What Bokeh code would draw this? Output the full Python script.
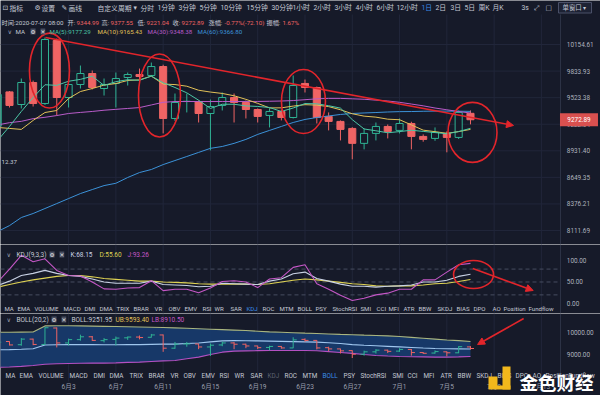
from bokeh.plotting import figure
from bokeh.layouts import column
from bokeh.core.properties import value
from bokeh.models import (Range1d, Label, Arrow, NormalHead, BoxAnnotation, ColumnDataSource)
from bokeh.embed import file_html
from bokeh.resources import INLINE

# ---------------- data (daily candles, index 5 = 6月3) ----------------
day_index = list(range(-1, 40))
opens = [9200, 9590, 9445, 9699, 9456, 10204, 9525, 9676, 9805, 9629, 9688, 9758, 9793, 9782, 9888,
         9287, 9479, 9479, 9343, 9434, 9525, 9468, 9388, 9321, 9366, 9298, 9688, 9641, 9310, 9254,
         9176, 9012, 9121, 9198, 9154, 9231, 9088, 9066, 9121, 9077, 9344.99]
highs = [9600, 9600, 9746, 9722, 10241, 10228, 9723, 9900, 9841, 9746, 9817, 9817, 9864, 9936, 9910,
         9571, 9571, 9490, 9502, 9583, 9571, 9491, 9400, 9400, 9388, 9782, 9734, 9652, 9355, 9265,
         9190, 9176, 9242, 9220, 9287, 9250, 9110, 9187, 9143, 9377, 9377.55]
lows = [9150, 9411, 9400, 9422, 9440, 9321, 9411, 9629, 9618, 9548, 9411, 9664, 9688, 9770, 9121,
        9260, 9355, 9242, 8936, 9377, 9242, 9287, 9242, 9187, 9265, 9287, 9583, 9231, 9154, 9044,
        8840, 8947, 9044, 9066, 9120, 8947, 9030, 9040, 8915, 9060, 9221.04]
closes = [9560, 9434, 9699, 9456, 10216, 9525, 9676, 9805, 9641, 9676, 9746, 9793, 9770, 9888, 9287,
          9468, 9482, 9343, 9422, 9525, 9468, 9388, 9310, 9366, 9298, 9664, 9641, 9298, 9254, 9165,
          9012, 9121, 9198, 9143, 9231, 9088, 9055, 9132, 9077, 9355, 9272.89]
ma5 = [9044, 9198, 9366, 9525, 9673, 9666, 9714, 9736, 9773, 9665, 9709, 9732, 9725, 9775, 9697,
       9641, 9579, 9494, 9400, 9448, 9448, 9429, 9423, 9411, 9366, 9405, 9456, 9453, 9431, 9404,
       9274, 9170, 9150, 9128, 9141, 9156, 9143, 9130, 9117, 9141, 9177.29]
ma10 = [9187, 9176, 9165, 9265, 9354, 9377, 9514, 9594, 9629, 9669, 9687, 9723, 9730, 9774, 9681,
        9675, 9656, 9609, 9588, 9572, 9545, 9504, 9458, 9406, 9407, 9427, 9443, 9438, 9421, 9385,
        9340, 9313, 9302, 9279, 9273, 9215, 9157, 9140, 9122, 9141, 9165.43]
ma30 = [9215, 9240, 9255, 9285, 9300, 9320, 9343, 9355, 9366, 9380, 9390, 9400, 9410, 9440, 9470,
        9479, 9479, 9479, 9479, 9479, 9479, 9480, 9480, 9482, 9485, 9490, 9500, 9510, 9515, 9515,
        9510, 9505, 9495, 9485, 9470, 9450, 9430, 9405, 9385, 9365, 9348.38]
ma60 = [8102, 8160, 8240, 8280, 8330, 8380, 8431, 8482, 8523, 8564, 8588, 8648, 8700, 8732, 8784,
        8827, 8870, 8914, 8958, 8978, 9012, 9055, 9110, 9154, 9198, 9242, 9276, 9298, 9315, 9332,
        9343, 9349, 9354, 9360, 9364, 9365, 9368, 9370, 9370, 9369, 9366.80]
kdj_k = [42, 52, 65, 70, 77, 70, 65, 63, 57, 50, 47, 47, 47, 52, 44, 43, 42, 39, 40, 47, 46,
         45, 44, 52, 57, 69, 73, 58, 52, 45, 40, 40, 38, 40, 41, 43, 50, 50, 54, 63, 68.15]
kdj_d = [38, 44, 50, 55, 59, 63, 65, 65, 62, 58, 56, 54, 52, 52, 50, 49, 48, 46, 45, 45, 45,
         45, 44, 46, 50, 54, 57, 55, 52, 49, 46, 44, 41, 40, 41, 41, 43, 46, 47, 51, 55.60]
kdj_j = [50, 80, 112, 97, 104, 77, 65, 64, 50, 34, 33, 36, 37, 53, 30, 33, 33, 25, 36, 51, 53,
         50, 37, 57, 60, 84, 90, 46, 33, 19, 7, 12, 20, 24, 33, 33, 55, 55, 73, 90, 93.26]
boll_ub = [10010, 10010, 10015, 10020, 10300, 10310, 10310, 10300, 10290, 10280, 10270, 10260, 10250,
           10240, 10230, 10210, 10190, 10170, 10150, 10130, 10110, 10090, 10060, 10030, 10010, 9990,
           9970, 9955, 9935, 9915, 9900, 9880, 9865, 9845, 9815, 9780, 9740, 9700, 9660, 9630, 9593.40]
boll_mid = [9215, 9220, 9238, 9260, 9430, 9445, 9450, 9450, 9448, 9445, 9445, 9450, 9451, 9460, 9470,
            9470, 9500, 9525, 9575, 9618, 9631, 9628, 9618, 9606, 9596, 9586, 9576, 9563, 9533, 9503,
            9450, 9420, 9395, 9370, 9345, 9320, 9295, 9272, 9260, 9255, 9251.95]
boll_lb = [8420, 8430, 8460, 8500, 8560, 8580, 8590, 8600, 8606, 8610, 8620, 8640, 8652, 8680, 8710,
           8730, 8810, 8880, 9000, 9106, 9152, 9165, 9175, 9182, 9182, 9182, 9182, 9170, 9130, 9090,
           9050, 9000, 8955, 8930, 8910, 8900, 8890, 8880, 8880, 8890, 8910.50]
date_ticks = [5, 9, 13, 17, 21, 25, 29, 33, 37, 41, 45]
date_labels = ["6月3", "6月7", "6月11", "6月15", "6月19", "6月23", "6月27", "7月1", "7月5", "7月9", "7月13"]
price_ticks = [8111.69, 8376.21, 8649.35, 8931.40, 9222.64, 9523.38, 9833.93, 10154.61]
kdj_ticks = [0, 50, 100]
kdj_levels = [20, 50, 80]
boll_ticks = [9000, 10000]
last_price = 9272.89
tabs = ["MA", "EMA", "VOLUME", "MACD", "DMI", "DMA", "TRIX", "BRAR", "VR", "OBV", "EMV", "RSI", "WR",
        "SAR", "KDJ", "ROC", "MTM", "BOLL", "PSY", "StochRSI", "SMI", "CCI", "MFI", "ATR", "BBW",
        "SKDJ", "BIAS", "DPO", "AO", "Position", "Fundflow"]

# ---------------- styling / layout constants ----------------
SX = 1.0
BG = "#161a29"
GRID = "#21263a"
SEP = "#2c3245"
RED = "#ef6464"
GREEN = "#2fb394"
ANN = "#e2252b"
TXT = "#c5c9d4"
AX = "#aeb3bf"
DIM = "#9a9fae"
BLUE_T = "#3b8de8"
C_MA5, C_MA10, C_MA30, C_MA60 = "#4cc6a6", "#e2c158", "#b95cc9", "#3c92d8"
C_K, C_D, C_J = "#c8d1e4", "#ded253", "#c457c6"
CN = "Noto Sans CJK SC"
LAT = "Roboto"
MIX = "Roboto, 'Noto Sans CJK SC'"
GEOM = {"main": (0, 244, 244), "kdj": (244, 313, 69), "boll": (313, 395, 82)}
X0, X_SEP, X_LAB, X_TAG = -0.761, 46.616, 47.15, 48.18

x_rng = Range1d(X0, 50.0)


def make_fig(key, y_rng, y_type="linear"):
    f = figure(frame_width=600, frame_height=GEOM[key][2], x_range=x_rng, y_range=y_rng,
               y_axis_type=y_type, x_axis_location=None, y_axis_location=None,
               output_backend="svg", toolbar_location=None, min_border=0,
               background_fill_color=BG, border_fill_color=BG, outline_line_color=None)
    f.xgrid.visible = False
    f.ygrid.visible = False
    return f


def tick_text(f, ys, labels, size="6.4px"):
    f.text(x=[X_LAB] * len(ys), y=ys, text=labels, text_font=value(LAT), text_font_size=size,
           text_color=AX, text_baseline="middle", text_align="left")


def txt(f, key, s, rx, ry, color=TXT, size=6.2, font=MIX, align="left", style="normal", bg=None):
    top, bot, h = GEOM[key]
    y = (bot - ry) * h / (bot - top)
    lab = Label(x=rx * SX, y=y, x_units="screen", y_units="screen", text=s, text_color=color,
                text_font_size=f"{size}px", text_font=font, text_align=align, text_baseline="middle",
                text_font_style=style)
    if bg:
        lab.background_fill_color = bg
    f.add_layout(lab)


def box(f, key, x0, x1, y0, y1, fill, line=None):
    top, bot, h = GEOM[key]
    k = h / (bot - top)
    f.add_layout(BoxAnnotation(left=x0 * SX, right=x1 * SX, top=(bot - y0) * k, bottom=(bot - y1) * k,
                               left_units="screen", right_units="screen", top_units="screen",
                               bottom_units="screen", fill_color=fill, fill_alpha=1.0,
                               line_color=line if line else None, line_alpha=1.0 if line else 0))


def frame_lines(f, y_lo, y_hi, hgrid=None):
    f.segment(x0=date_ticks, y0=[y_lo] * len(date_ticks), x1=date_ticks, y1=[y_hi] * len(date_ticks),
              line_color=GRID, line_width=1)
    if hgrid:
        f.segment(x0=[X0] * len(hgrid), y0=hgrid, x1=[X_SEP] * len(hgrid), y1=hgrid,
                  line_color=GRID, line_width=1)
    f.segment(x0=[X_SEP], y0=[y_lo], x1=[X_SEP], y1=[y_hi], line_color=SEP, line_width=1)


up = [c >= o for o, c in zip(opens, closes)]
src = ColumnDataSource(dict(
    x=day_index, o=opens, h=highs, l=lows, c=closes,
    top=[max(o, c) for o, c in zip(opens, closes)],
    bot=[min(o, c) for o, c in zip(opens, closes)],
    xl=[i - 0.3 for i in day_index], xr=[i + 0.3 for i in day_index],
    line=[GREEN if u else RED for u in up],
    fill=[BG if u else RED for u in up],
))

# ---------------- main price panel (with toolbar strip on top) ----------------
MAIN_LO, MAIN_HI, MAIN_GRID_TOP = 7975.9, 10708.9, 10529.3
main = make_fig("main", Range1d(MAIN_LO, MAIN_HI), "log")
frame_lines(main, MAIN_LO, MAIN_GRID_TOP, price_ticks)
tick_text(main, price_ticks, [f"{t:.2f}" for t in price_ticks])

main.segment(x0="x", y0="h", x1="x", y1="l", line_color="line", line_width=1, source=src)
main.vbar(x="x", width=0.6, top="top", bottom="bot", fill_color="fill", line_color="line",
          line_width=1, source=src)
for series, col in [(ma60, C_MA60), (ma30, C_MA30), (ma10, C_MA10), (ma5, C_MA5)]:
    main.line(day_index, series, line_color=col, line_width=1)

# current-price tag on the price scale
main.rect(x=[X_TAG], y=[last_price], width=[38], height=[13], width_units="screen",
          height_units="screen", fill_color="#d9504f", line_color=None)
main.text(x=[X_TAG], y=[last_price], text=[f"{last_price:.2f}"], text_font=value(LAT),
          text_font_size="6.4px", text_color="white", text_align="center", text_baseline="middle")

# hand-drawn red marks
mark_x = [3.38, 12.69, 24.87, 39.17]
mark_y = [9840, 9548, 9479, 9132]
main.ellipse(x=mark_x, y=mark_y, width=[40, 42, 44, 49], height=[75, 83, 64, 60],
             width_units="screen", height_units="screen", fill_color=None, line_color=ANN, line_width=1.6)
main.add_layout(Arrow(end=NormalHead(size=7, fill_color=ANN, line_color=ANN),
                      x_start=3.05, y_start=10241, x_end=42.64, y_end=9209,
                      line_color=ANN, line_width=1.6))

# toolbar strip
tool_items = [("⊡", 2, "DejaVu Sans"), ("指标", 9, CN), ("⚙", 34, "DejaVu Sans"), ("设置", 41, CN),
              ("✎", 61, "DejaVu Sans"), ("画线", 68, CN), ("自定义周期", 97, CN), ("▾", 133, "DejaVu Sans"),
              ("分时", 140, CN), ("1分钟", 157, MIX), ("3分钟", 178, MIX), ("5分钟", 199, MIX),
              ("10分钟", 220, MIX), ("15分钟", 246, MIX), ("30分钟", 271, MIX), ("1小时", 292, MIX),
              ("2小时", 313, MIX), ("3小时", 334, MIX), ("4小时", 355, MIX), ("6小时", 376, MIX),
              ("12小时", 396, MIX), ("1日", 421, MIX), ("2日", 435, MIX), ("3日", 450, MIX), ("5日", 464, MIX),
              ("周K", 478, MIX), ("月K", 492, MIX), ("3s", 521, LAT), ("⤢", 533, "DejaVu Sans"),
              ("□", 545, "DejaVu Sans")]
for s, x, fnt in tool_items:
    txt(main, "main", s, x, 7, color=BLUE_T if s == "1日" else TXT, size=6.8, font=fnt)
box(main, "main", 558, 591, 2, 12.5, "#1d2234", "#4a5068")
txt(main, "main", "单窗口 ▾", 562, 7, color=TXT, size=6.4, font=CN)

info = [("时间:2020-07-07 08:00", 1, TXT), ("开:", 67, TXT), ("9344.99", 76, RED), ("高:", 101, TXT),
        ("9377.55", 110, RED), ("低:", 137, TXT), ("9221.04", 146, RED), ("收:", 172, TXT),
        ("9272.89", 181, RED), ("涨幅:", 208, TXT), ("-0.77%(-72.10)", 224, RED), ("振幅:", 266, TXT),
        ("1.67%", 282, RED)]
for s, x, c in info:
    txt(main, "main", s, x, 22, color=c, size=6.2)
txt(main, "main", "∨", 7, 31, color=DIM, size=6.2, font="DejaVu Sans")
txt(main, "main", "MA", 15, 31, color=TXT, size=6.2)
txt(main, "main", "⚙", 30, 31, color="#e0e0e0", size=5.7, font="DejaVu Sans", bg="#474d60")
txt(main, "main", "✕", 40, 31, color="#e0e0e0", size=5.7, font="DejaVu Sans", bg="#474d60")
for s, x, c in [("MA(5):9177.29", 49, C_MA5), ("MA(10):9165.43", 97, C_MA10),
                ("MA(30):9348.38", 147, C_MA30), ("MA(60):9366.80", 197, C_MA60)]:
    txt(main, "main", s, x, 31, color=c, size=6.2)
txt(main, "main", "12.37", 1, 161, color=TXT, size=6.2)

# ---------------- KDJ panel ----------------
KDJ_LO, KDJ_HI = -23.3, 137.2
kdj = make_fig("kdj", Range1d(KDJ_LO, KDJ_HI))
frame_lines(kdj, KDJ_LO, KDJ_HI)
kdj.segment(x0=[X0] * 3, y0=kdj_levels, x1=[X_SEP] * 3, y1=kdj_levels, line_color="#474d60",
            line_dash="4 3", line_width=1)
tick_text(kdj, kdj_ticks, [f"{t:.2f}" for t in kdj_ticks])
kdj.line(day_index, kdj_d, line_color=C_D, line_width=1.1)
kdj.line(day_index, kdj_k, line_color=C_K, line_width=1.1)
kdj.line(day_index, kdj_j, line_color=C_J, line_width=1.1)
kdj.ellipse(x=[39.26], y=[67.4], width=[40], height=[28], width_units="screen", height_units="screen",
            fill_color=None, line_color=ANN, line_width=1.6)
kdj.add_layout(Arrow(end=NormalHead(size=7, fill_color=ANN, line_color=ANN),
                     x_start=39.2, y_start=81.4, x_end=44.3, y_end=30.2, line_color=ANN, line_width=1.6))
txt(kdj, "kdj", "∨", 6, 254, color=DIM, size=6.2, font="DejaVu Sans")
txt(kdj, "kdj", "KDJ(9,3,3)", 16, 254, color=TXT, size=6.5)
txt(kdj, "kdj", "⚙", 49, 254, color="#e0e0e0", size=5.7, font="DejaVu Sans", bg="#474d60")
txt(kdj, "kdj", "✕", 59, 254, color="#e0e0e0", size=5.7, font="DejaVu Sans", bg="#474d60")
for s, x, c in [("K:68.15", 70, C_K), ("D:55.60", 99, C_D), ("J:93.26", 127, C_J)]:
    txt(kdj, "kdj", s, x, 254, color=c, size=6.5)
kdj_tab_x = [4, 17, 34, 63, 84, 99, 116, 133, 154, 168, 184, 202, 214, 230, 246, 262, 279, 297, 315,
             332, 360, 376, 388, 403, 418, 437, 456, 473, 492, 503, 528]
for s, x in zip(tabs, kdj_tab_x):
    txt(kdj, "kdj", s, x, 308, color=BLUE_T if s == "KDJ" else TXT, size=6.1)

# ---------------- BOLL panel (with date row) ----------------
BOLL_LO, BOLL_HI, BOLL_FLOOR, DATE_Y = 7136.4, 10863.6, 7772.7, 7545
boll = make_fig("boll", Range1d(BOLL_LO, BOLL_HI))
frame_lines(boll, BOLL_FLOOR, BOLL_HI)
tick_text(boll, boll_ticks, [f"{t:.2f}" for t in boll_ticks])
boll.varea(x=day_index, y1=boll_lb, y2=boll_ub, fill_color="#173a6c", fill_alpha=0.95)
boll.line(day_index, boll_ub, line_color="#a9b57f", line_width=1.1)
boll.line(day_index, boll_mid, line_color="#9fc6ee", line_width=1.1)
boll.line(day_index, boll_lb, line_color="#b450c2", line_width=1.1)
boll.segment(x0="x", y0="h", x1="x", y1="l", line_color="line", line_width=1, source=src)
boll.segment(x0="xl", y0="o", x1="x", y1="o", line_color="line", line_width=1, source=src)
boll.segment(x0="x", y0="c", x1="xr", y1="c", line_color="line", line_width=1, source=src)
boll.add_layout(Arrow(end=NormalHead(size=7, fill_color=ANN, line_color=ANN),
                      x_start=43.5, y_start=10636, x_end=39.6, y_end=9455, line_color=ANN, line_width=1.6))
boll.text(x=date_ticks, y=[DATE_Y] * len(date_ticks), text=date_labels, text_font=value(MIX),
          text_font_size="6.6px", text_color=DIM, text_align="center", text_baseline="middle")
txt(boll, "boll", "∨", 6, 319, color=DIM, size=6.2, font="DejaVu Sans")
txt(boll, "boll", "BOLL(20,2)", 16, 319, color=TXT, size=6.5)
txt(boll, "boll", "⚙", 51, 319, color="#e0e0e0", size=5.7, font="DejaVu Sans", bg="#474d60")
txt(boll, "boll", "✕", 61, 319, color="#e0e0e0", size=5.7, font="DejaVu Sans", bg="#474d60")
for s, x, c in [("BOLL:9251.95", 71, TXT), ("UB:9593.40", 115, C_MA10), ("LB:8910.50", 151, C_J)]:
    txt(boll, "boll", s, x, 319, color=c, size=6.5)
boll_tab_x = [5, 19, 38, 69, 93, 109, 129, 148, 170, 183, 201, 219, 234, 250, 267, 284, 302, 322, 343,
              360, 392, 407, 423, 440, 457, 476, 497, 515, 532, 545, 568]
for s, x in zip(tabs, boll_tab_x):
    col = BLUE_T if s == "BOLL" else ("#5d6272" if s == "KDJ" else TXT)
    txt(boll, "boll", s, x, 375, color=col, size=6.4)

# watermark
box(boll, "boll", 488, 497, 376, 386, "#f2b81c")
box(boll, "boll", 502, 510, 366, 389, "#f2b81c")
box(boll, "boll", 488, 510, 385, 389, "#f2b81c")
txt(boll, "boll", "金色财经", 519, 381, color="white", size=18.5, font=CN, style="bold")

layout = column(main, kdj, boll, spacing=0)
open("out.html", "w").write(file_html(layout, INLINE))
